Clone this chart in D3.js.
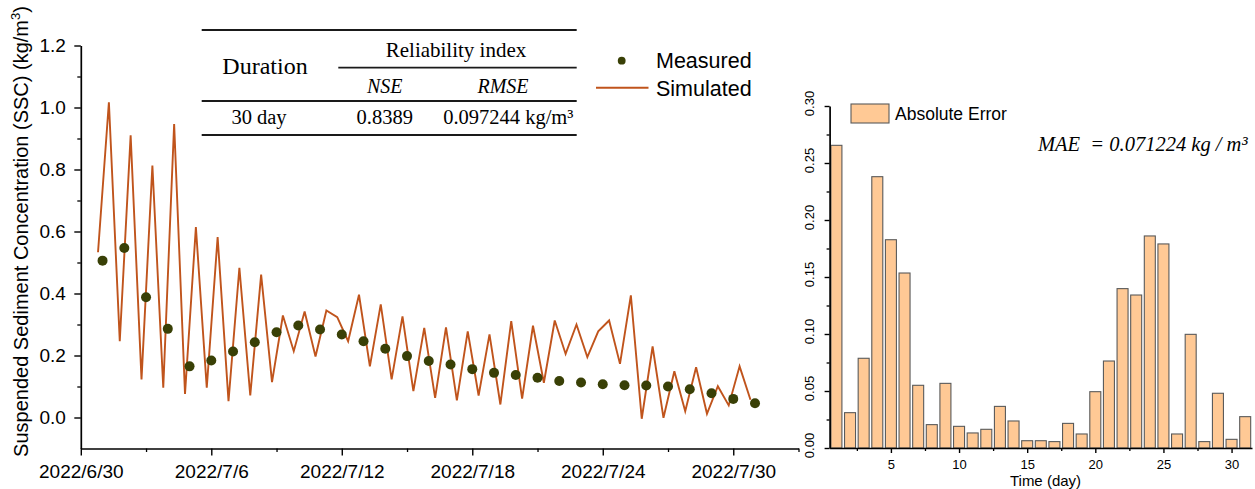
<!DOCTYPE html>
<html>
<head>
<meta charset="utf-8">
<script src="https://cdn.jsdelivr.net/npm/d3@7"></script>
<style>
    html, body { margin: 0; padding: 0; background: #fff; }
    svg { display: block; }
</style>
</head>
<body>
<svg id="chart" width="1255" height="489"></svg>
<script>

// ---- data (left panel) ----
// measured SSC, one sample a day, 2022/7/1 .. 2022/7/31
const measuredDays = d3.range(1, 32);
const measured = [
    0.506, 0.547, 0.388, 0.286, 0.165, 0.184, 0.213, 0.243, 0.275, 0.297,
    0.284, 0.268, 0.246, 0.222, 0.198, 0.182, 0.171, 0.156, 0.144, 0.137,
    0.128, 0.118, 0.113, 0.107, 0.104, 0.103, 0.100, 0.091, 0.078, 0.060,
    0.046
];

// simulated SSC, every 12 h from 2022/6/30 19:00
const simStart = new Date(2022, 5, 30, 19);
const simStepHours = 12;
const simulated = [
    0.533, 1.017, 0.246, 0.910, 0.123, 0.813, 0.096, 0.947, 0.076, 0.614,
    0.096, 0.582, 0.053, 0.483, 0.071, 0.461, 0.114, 0.329, 0.214, 0.342,
    0.197, 0.345, 0.324, 0.246, 0.396, 0.165, 0.365, 0.123, 0.326, 0.085,
    0.289, 0.063, 0.291, 0.055, 0.278, 0.071, 0.268, 0.042, 0.311, 0.061,
    0.296, 0.112, 0.313, 0.205, 0.300, 0.195, 0.278, 0.313, 0.173, 0.394,
    -0.004, 0.229, -0.001, 0.149, 0.020, 0.162, 0.012, 0.101, 0.039, 0.165,
    0.057
];

const dateTicks = ['2022/6/30', '2022/7/6', '2022/7/12', '2022/7/18', '2022/7/24', '2022/7/30'];
const dateMinorTicks = ['2022/7/3', '2022/7/9', '2022/7/15', '2022/7/21', '2022/7/27', '2022/8/2'];
const sscTicks = [0, 0.2, 0.4, 0.6, 0.8, 1.0, 1.2];
const sscMinorTicks = [0.1, 0.3, 0.5, 0.7, 0.9, 1.1];

// ---- data (right panel) ----
const errorDays = d3.range(1, 32);
const absError = [
    0.2655, 0.031, 0.0787, 0.238, 0.1827, 0.1535, 0.055, 0.0205, 0.0567, 0.019,
    0.0132, 0.0164, 0.0365, 0.0237, 0.0064, 0.0064, 0.0056, 0.0216, 0.0123, 0.0494,
    0.0763, 0.1398, 0.1342, 0.186, 0.179, 0.0123, 0.0997, 0.0056, 0.048, 0.0076,
    0.0275
];
const dayTicks = [5, 10, 15, 20, 25, 30];
const dayMinorTicks = [2.5, 7.5, 12.5, 17.5, 22.5, 27.5];
const errorTicks = [0, 0.05, 0.10, 0.15, 0.20, 0.25, 0.30];
const errorMinorTicks = [0.025, 0.075, 0.125, 0.175, 0.225, 0.275];

// ---- table / notes ----
const tableHeader = ['Duration', 'Reliability index'];
const tableColumns = ['NSE', 'RMSE'];
const tableRow = ['30 day', '0.8389', '0.097244 kg/m³'];
const maeLabel = 'MAE  = 0.071224 kg / m³';

const SANS = 'Liberation Sans, Arial, sans-serif';
const SERIF = 'Liberation Serif, Times New Roman, serif';
const simColor = '#C0541C';
const dotColor = '#394006';
const barFill = '#FFC995';
const barStroke = '#5a5a5a';

const parseDate = d3.timeParse('%Y/%-m/%-d');
const svg = d3.select('#chart');

svg.append('rect')
    .attr('width', 1255)
    .attr('height', 489)
    .attr('fill', '#fff');

function styleAxis (g, fontSize) {
    g.select('.domain')
        .attr('stroke', '#000')
        .attr('stroke-width', 1.7);
    g.selectAll('.tick line')
        .attr('stroke', '#000')
        .attr('stroke-width', 1.4);
    g.selectAll('.tick text')
        .attr('font-family', SANS)
        .attr('font-size', fontSize)
        .attr('fill', '#000');
    return g;
}

function minorAxis (g) {
    g.select('.domain').remove();
    g.selectAll('.tick line')
        .attr('stroke', '#000')
        .attr('stroke-width', 1.3);
}

// ================= left panel =================
function drawLeft () {

    const start = parseDate('2022/6/30');
    const x = d3.scaleTime()
        .domain([start, parseDate('2022/8/2')])
        .range([80.8, 798.5]);

    const y = d3.scaleLinear()
        .domain([-0.1, 1.2])
        .range([448.5, 45.5]);

    const g = svg.append('g');

    // simulated line
    const simPoints = simulated.map((v, i) => ({
        t: d3.timeHour.offset(simStart, i * simStepHours),
        v
    }));

    g.append('path')
        .datum(simPoints)
        .attr('d', d3.line().x(d => x(d.t)).y(d => y(d.v)))
        .attr('fill', 'none')
        .attr('stroke', simColor)
        .attr('stroke-width', 1.9)
        .attr('stroke-linejoin', 'miter');

    // measured points
    g.selectAll('circle.measured')
        .data(measured)
        .join('circle')
        .attr('class', 'measured')
        .attr('cx', (v, i) => x(d3.timeDay.offset(start, measuredDays[i])))
        .attr('cy', v => y(v))
        .attr('r', 5)
        .attr('fill', dotColor);

    // axes
    g.append('g')
        .attr('transform', 'translate(80.8,0)')
        .call(d3.axisLeft(y).tickValues(sscMinorTicks).tickSize(3.5).tickFormat(''))
        .call(minorAxis);

    g.append('g')
        .attr('transform', 'translate(80.8,0)')
        .call(d3.axisLeft(y)
            .tickValues(sscTicks)
            .tickSize(6.5)
            .tickSizeOuter(0)
            .tickPadding(8.5)
            .tickFormat(d3.format('.1f')))
        .call(styleAxis, 19);

    g.append('g')
        .attr('transform', 'translate(0,448.5)')
        .call(d3.axisBottom(x).tickValues(dateMinorTicks.map(parseDate)).tickSize(3.5).tickFormat(''))
        .call(minorAxis);

    g.append('g')
        .attr('transform', 'translate(0,448.5)')
        .call(d3.axisBottom(x)
            .tickValues(dateTicks.map(parseDate))
            .tickSize(7)
            .tickSizeOuter(0)
            .tickPadding(9)
            .tickFormat(d3.timeFormat('%Y/%-m/%-d')))
        .call(styleAxis, 19);

    // y title
    const title = g.append('text')
        .attr('transform', 'translate(28,231.5) rotate(-90)')
        .attr('text-anchor', 'middle')
        .attr('font-family', SANS)
        .attr('font-size', 20)
        .attr('fill', '#000');
    title.append('tspan').text('Suspended Sediment Concentration (SSC) (kg/m');
    title.append('tspan').attr('font-size', 13).attr('dy', -8).text('3');
    title.append('tspan').attr('dy', 8).text(')');

    // legend
    const lg = g.append('g');
    lg.append('circle')
        .attr('cx', 621.7)
        .attr('cy', 60.7)
        .attr('r', 3.9)
        .attr('fill', dotColor);
    lg.append('line')
        .attr('x1', 596).attr('x2', 648.5)
        .attr('y1', 87.7).attr('y2', 87.7)
        .attr('stroke', simColor)
        .attr('stroke-width', 2);
    lg.selectAll('text')
        .data(['Measured', 'Simulated'])
        .join('text')
        .attr('x', 656)
        .attr('y', (d, i) => i ? 95.8 : 68.3)
        .attr('font-family', SANS)
        .attr('font-size', 21.5)
        .attr('fill', '#000')
        .text(d => d);
}

// ================= table =================
function drawTable () {

    const t = svg.append('g')
        .attr('font-family', SERIF)
        .attr('fill', '#000');

    const rules = [
        [201.7, 576.7, 30],
        [338.3, 576.7, 67.7],
        [201.7, 576.7, 101],
        [201.7, 576.7, 135]
    ];

    t.selectAll('line')
        .data(rules)
        .join('line')
        .attr('x1', d => d[0])
        .attr('x2', d => d[1])
        .attr('y1', d => d[2])
        .attr('y2', d => d[2])
        .attr('stroke', '#1a1a1a')
        .attr('stroke-width', 1.8);

    t.append('text')
        .attr('x', 265).attr('y', 73.5)
        .attr('text-anchor', 'middle')
        .attr('font-size', 24)
        .text(tableHeader[0]);

    t.append('text')
        .attr('x', 456).attr('y', 57.3)
        .attr('text-anchor', 'middle')
        .attr('font-size', 21)
        .text(tableHeader[1]);

    t.selectAll('text.col')
        .data(tableColumns)
        .join('text')
        .attr('class', 'col')
        .attr('x', (d, i) => [384.7, 503][i])
        .attr('y', 92.7)
        .attr('text-anchor', 'middle')
        .attr('font-size', 20)
        .attr('font-style', 'italic')
        .text(d => d);

    t.selectAll('text.cell')
        .data(tableRow)
        .join('text')
        .attr('class', 'cell')
        .attr('x', (d, i) => [259, 384.7, 508.3][i])
        .attr('y', 124)
        .attr('text-anchor', 'middle')
        .attr('font-size', 20.5)
        .text(d => d);
}

// ================= right panel =================
function drawRight () {

    const x = d3.scaleLinear()
        .domain([0.5, 31.5])
        .range([829.6, 1252]);

    const y = d3.scaleLinear()
        .domain([0, 0.30])
        .range([448, 106]);

    const g = svg.append('g');
    const bw = 11;

    g.selectAll('rect.bar')
        .data(absError)
        .join('rect')
        .attr('class', 'bar')
        .attr('x', (v, i) => x(errorDays[i]) - bw / 2)
        .attr('y', v => y(v))
        .attr('width', bw)
        .attr('height', v => y(0) - y(v))
        .attr('fill', barFill)
        .attr('stroke', barStroke)
        .attr('stroke-width', 1.1);

    g.append('g')
        .attr('transform', 'translate(829.6,0)')
        .call(d3.axisLeft(y).tickValues(errorMinorTicks).tickSize(3).tickFormat(''))
        .call(minorAxis);

    const yAxis = g.append('g')
        .attr('transform', 'translate(829.6,0)')
        .call(d3.axisLeft(y)
            .tickValues(errorTicks)
            .tickSize(5)
            .tickSizeOuter(0)
            .tickFormat(d3.format('.2f')))
        .call(styleAxis, 13);

    yAxis.selectAll('.tick text')
        .attr('x', null)
        .attr('dy', '0.35em')
        .attr('text-anchor', 'middle')
        .attr('transform', 'translate(-20,-3) rotate(-90)');

    g.append('g')
        .attr('transform', 'translate(0,448)')
        .call(d3.axisBottom(x).tickValues(dayMinorTicks).tickSize(3).tickFormat(''))
        .call(minorAxis);

    g.append('g')
        .attr('transform', 'translate(0,448)')
        .call(d3.axisBottom(x)
            .tickValues(dayTicks)
            .tickSize(5)
            .tickSizeOuter(0)
            .tickPadding(6.5))
        .call(styleAxis, 13);

    g.append('text')
        .attr('x', 1045.5)
        .attr('y', 485.5)
        .attr('text-anchor', 'middle')
        .attr('font-family', SANS)
        .attr('font-size', 15)
        .text('Time (day)');

    // legend
    g.append('rect')
        .attr('x', 851).attr('y', 104)
        .attr('width', 38).attr('height', 19)
        .attr('fill', barFill)
        .attr('stroke', barStroke)
        .attr('stroke-width', 1.1);

    g.append('text')
        .attr('x', 895)
        .attr('y', 120.3)
        .attr('font-family', SANS)
        .attr('font-size', 17.5)
        .text('Absolute Error');

    g.append('text')
        .attr('x', 1038)
        .attr('y', 151)
        .attr('font-family', SERIF)
        .attr('font-style', 'italic')
        .attr('font-size', 20.5)
        .style('white-space', 'pre')
        .text(maeLabel);
}

drawLeft();
drawTable();
drawRight();

</script>
</body>
</html>
